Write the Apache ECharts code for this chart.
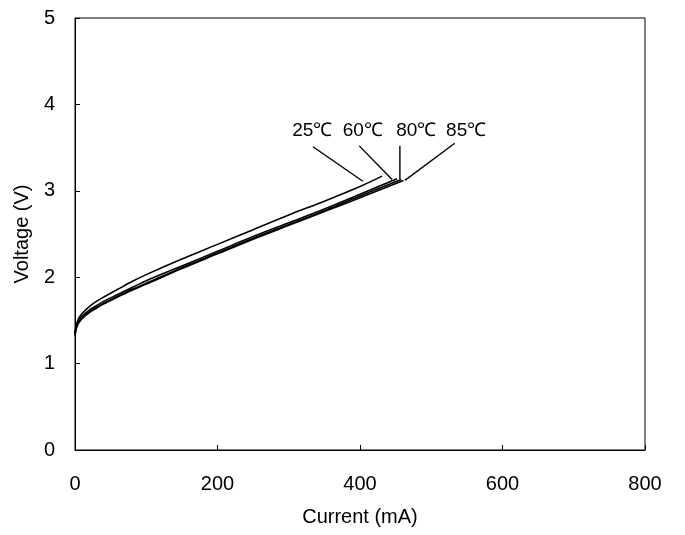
<!DOCTYPE html>
<html>
<head>
<meta charset="utf-8">
<script src="https://cdn.jsdelivr.net/npm/echarts@6/dist/echarts.min.js"></script>
<style>
html,body{margin:0;padding:0;background:#fff;}
#chart{width:685px;height:535px;}
</style>
</head>
<body>
<div id="chart"></div>
<script>
// current (mA) / voltage (V)
var cur25 = [0, 1, 2, 5, 10, 20, 30, 40, 60, 80, 100, 150, 200, 250, 300, 350, 400, 431];
var volt25 = [1.35, 1.41, 1.45, 1.52, 1.58, 1.66, 1.72, 1.77, 1.86, 1.95, 2.03, 2.21, 2.38, 2.55, 2.72, 2.88, 3.05, 3.17];
var cur60 = [0, 1, 2, 5, 10, 20, 30, 40, 60, 80, 100, 150, 200, 250, 300, 350, 400, 452];
var volt60 = [1.34, 1.40, 1.43, 1.49, 1.55, 1.62, 1.67, 1.72, 1.80, 1.88, 1.96, 2.13, 2.30, 2.47, 2.63, 2.79, 2.96, 3.14];
var cur80 = [0, 1, 2, 5, 10, 20, 30, 40, 60, 80, 100, 150, 200, 250, 300, 350, 400, 458];
var volt80 = [1.33, 1.39, 1.42, 1.48, 1.53, 1.60, 1.65, 1.70, 1.78, 1.86, 1.93, 2.11, 2.28, 2.45, 2.61, 2.77, 2.94, 3.13];
var cur85 = [0, 1, 2, 5, 10, 20, 30, 40, 60, 80, 100, 150, 200, 250, 300, 350, 400, 461];
var volt85 = [1.32, 1.38, 1.41, 1.47, 1.52, 1.59, 1.64, 1.69, 1.77, 1.85, 1.92, 2.10, 2.27, 2.44, 2.60, 2.76, 2.92, 3.12];

var tempNames = ['25℃', '60℃', '80℃', '85℃'];
// label anchor and leader line ends, in data units
var labelCur = [333, 404, 479, 549];
var labelVolt = [3.70, 3.70, 3.70, 3.70];
var leadFromCur = [334, 399, 456, 533];
var leadFromVolt = [3.51, 3.52, 3.52, 3.55];
var leadToCur = [404, 445, 456, 463];
var leadToVolt = [3.11, 3.13, 3.13, 3.12];

function pairs(xs, ys) {
    return xs.map(function (x, i) { return [x, ys[i]]; });
}

var font = 'Liberation Sans, Arial, sans-serif';
var chart = echarts.init(document.getElementById('chart'));

var series = [];
[[cur25, volt25], [cur60, volt60], [cur80, volt80], [cur85, volt85]].forEach(function (d, i) {
    series.push({
        name: tempNames[i],
        type: 'line',
        smooth: 0.3,
        symbol: 'none',
        data: pairs(d[0], d[1]),
        lineStyle: {color: '#000', width: 1.6}
    });
    // leader line from label to curve end
    series.push({
        type: 'line',
        symbol: 'none',
        data: [[leadFromCur[i], leadFromVolt[i]], [leadToCur[i], leadToVolt[i]]],
        lineStyle: {color: '#000', width: 1.4}
    });
});
series.push({
    type: 'scatter',
    symbolSize: 0,
    itemStyle: {opacity: 1},
    data: labelCur.map(function (c, i) { return {value: [c, labelVolt[i]], name: tempNames[i]}; }),
    label: {
        show: true,
        position: 'inside',
        formatter: '{b}',
        color: '#000',
        opacity: 1,
        fontSize: 19,
        fontFamily: font
    }
});

chart.setOption({
    animation: false,
    grid: {
        left: 75, right: 40, top: 18, bottom: 85,
        show: true, borderColor: '#000', borderWidth: 1
    },
    xAxis: {
        type: 'value',
        min: 0, max: 800, interval: 200,
        name: 'Current (mA)',
        nameLocation: 'middle',
        nameGap: 57,
        nameTextStyle: {color: '#000', fontSize: 20, fontFamily: font},
        axisLine: {show: true, lineStyle: {color: '#000', width: 1}},
        axisTick: {show: true, inside: true, length: 5, lineStyle: {color: '#000'}},
        axisLabel: {color: '#000', fontSize: 20, margin: 24, fontFamily: font},
        splitLine: {show: false}
    },
    yAxis: {
        type: 'value',
        min: 0, max: 5, interval: 1,
        name: 'Voltage (V)',
        nameLocation: 'middle',
        nameGap: 43,
        nameTextStyle: {color: '#000', fontSize: 20, fontFamily: font},
        axisLine: {show: true, lineStyle: {color: '#000', width: 1}},
        axisTick: {show: true, inside: true, length: 5, lineStyle: {color: '#000'}},
        axisLabel: {color: '#000', fontSize: 20, margin: 20, fontFamily: font},
        splitLine: {show: false}
    },
    series: series
});
</script>
</body>
</html>
